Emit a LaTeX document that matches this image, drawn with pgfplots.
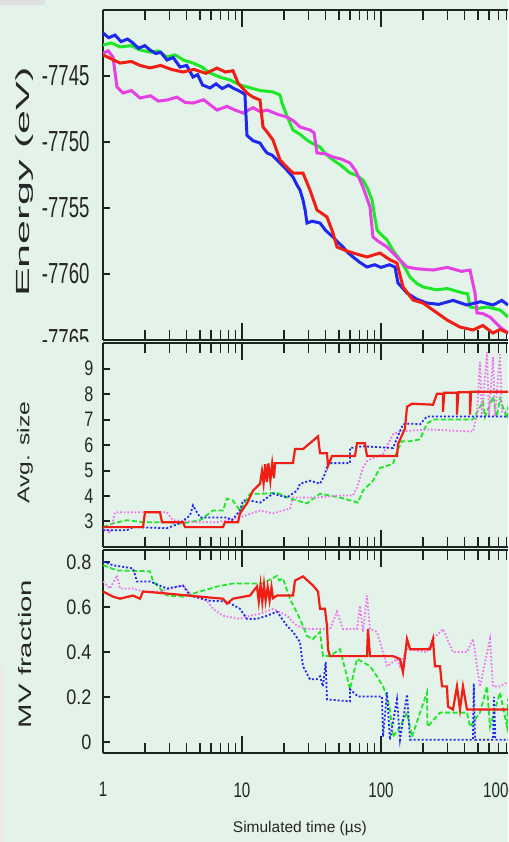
\documentclass[border=0pt]{standalone}
\usepackage{pgfplots}
\pgfplotsset{compat=1.18}
\usepackage{fontspec}
\setmainfont{Liberation Sans}
\usepackage{graphicx}
\definecolor{bgc}{RGB}{228,243,233}
\definecolor{axc}{RGB}{25,38,32}
\definecolor{cred}{RGB}{240,30,20}
\definecolor{cgreen}{RGB}{30,230,40}
\definecolor{cblue}{RGB}{30,40,240}
\definecolor{cmag}{RGB}{228,64,228}
\definecolor{cmagl}{RGB}{240,110,240}
\newcommand{\tlA}[1]{\scalebox{0.64}[1]{\fontsize{29}{29}\selectfont #1}}
\newcommand{\tlB}[1]{\scalebox{0.77}[1]{\fontsize{21}{21}\selectfont #1}}
\newcommand{\tlC}[1]{\scalebox{0.86}[1]{\fontsize{21}{21}\selectfont #1}}
\newcommand{\tlX}[1]{\scalebox{0.72}[1]{\fontsize{21}{21}\selectfont #1}}
\pgfplotsset{
 /pgfplots/stdpanel/.style={
  scale only axis, width=405pt, xmin=1, xmax=820,
  axis x line*=box, axis y line*=left,
  axis line style={axc, line width=1.6pt},
  tick align=inside, tick style={axc, line width=1.4pt},
  major tick length=10pt,
  xtick={2,3,4,5,6,7,8,9,20,30,40,50,60,70,80,90,200,300,400,500,600,700,800},
  xticklabels={{},{},{},{},{},{},{},{},{},{},{},{},{},{},{},{},{},{},{},{},{},{},{}},
  extra x ticks={1,10,100},
  extra x tick style={major tick length=17pt, tick style={axc, line width=1.6pt}},
  ytick=\empty,
  extra y tick style={major tick length=7pt, tick style={axc, line width=2pt}},
  anchor=north west,
  ylabel style={anchor=center, text=black!85},
  yticklabel style={text=black!85},
 },
 /pgfplots/topline/.style={line width=3pt, no marks},
}
\begin{document}
\begin{tikzpicture}
\fill[bgc] (0pt,0pt) rectangle (508pt,-842pt);
\fill[black!12] (0pt,0pt) rectangle (45pt,-5pt);
\fill[black!8] (0pt,-665pt) rectangle (4pt,-842pt);
\useasboundingbox (0pt,0pt) rectangle (508pt,-842pt);
% ---------------- top panel ----------------
\begin{axis}[xmode=log, stdpanel, at={(103pt,-10pt)}, height=330pt,
  ymin=-7765, ymax=-7740,
  extra y ticks={-7765,-7760,-7755,-7750,-7745},
  extra y tick labels={\tlA{-7765},\tlA{-7760},\tlA{-7755},\tlA{-7750},\tlA{-7745}},
  yticklabel style={xshift=-10pt},
  extra x tick labels={,,},
  ylabel={\scalebox{2.27}[1]{\fontsize{19}{19}\selectfont Energy (eV)}},
  ylabel style={at={(axis description cs:-0.1926,0.479)}},
]
\addplot[topline, cgreen] coordinates {(1,-7742.65) (1.15,-7742.5) (1.326,-7742.8) (1.6,-7742.7) (1.846,-7743.03) (2.2,-7743.2) (2.5,-7743.1) (2.887,-7743.56) (3.3,-7743.4) (3.8,-7743.8) (4.441,-7744.02) (5.1,-7744.3) (5.885,-7744.77) (7,-7745.1) (8.2,-7745.3) (9.674,-7745.68) (11.5,-7745.9) (13.5,-7746.1) (16.71,-7746.21) (18.77,-7746.44) (19.4,-7747.05) (21,-7748.0) (23.27,-7749.09) (26,-7749.4) (29.35,-7749.85) (32,-7750.1) (36.41,-7750.38) (40,-7750.9) (45.15,-7751.36) (52,-7751.8) (59.84,-7752.35) (66,-7752.5) (74.21,-7752.88) (80,-7753.5) (86.15,-7754.39) (90,-7755.6) (93.59,-7756.67) (100,-7757.0) (110.5,-7757.42) (122,-7758.2) (137,-7758.94) (150,-7759.6) (161.7,-7760.23) (180,-7760.7) (200.6,-7760.98) (250,-7761.2) (300,-7761.1) (388.9,-7761.44) (420,-7761.5) (436.8,-7762.5) (500,-7762.6) (578.9,-7762.5) (718.1,-7762.73) (770,-7763.0) (820,-7763.26)};
\addplot[topline, cmag] coordinates {(1,-7743.26) (1.09,-7743.1) (1.18,-7743.56) (1.261,-7745.83) (1.393,-7746.29) (1.6,-7746.1) (1.846,-7746.67) (2.2,-7746.5) (2.5,-7746.9) (2.887,-7746.82) (3.4,-7746.6) (3.9,-7747.0) (4.441,-7747.05) (5.3,-7746.8) (6.61,-7747.58) (7.8,-7747.3) (9,-7747.6) (10.17,-7747.8) (12,-7747.4) (13.5,-7747.7) (15.13,-7747.58) (18,-7747.9) (21.07,-7748.11) (23.5,-7748.4) (26.14,-7748.86) (30.84,-7749.09) (33,-7749.3) (34.64,-7750.83) (40,-7750.9) (45.15,-7751.14) (52,-7751.3) (59.84,-7751.59) (66,-7752.2) (74.21,-7753.41) (83.34,-7754.92) (87.58,-7757.2) (95,-7757.5) (110.5,-7757.95) (122,-7758.4) (137,-7758.94) (153.9,-7759.47) (180,-7759.6) (236.6,-7759.7) (300,-7759.5) (380,-7759.8) (436.8,-7759.7) (474.6,-7761.44) (490.5,-7762.95) (540,-7763.0) (608.4,-7763.26) (718.1,-7764.02) (820,-7764.47)};
\addplot[topline, cblue] coordinates {(1,-7741.74) (1.1,-7742.1) (1.22,-7741.9) (1.35,-7742.4) (1.5,-7742.2) (1.644,-7742.5) (1.8,-7742.9) (2.0,-7742.7) (2.178,-7743.03) (2.4,-7743.3) (2.6,-7743.2) (2.887,-7743.79) (3.2,-7743.6) (3.581,-7744.32) (4.0,-7744.2) (4.441,-7745.08) (4.8,-7744.9) (5.2,-7745.68) (5.885,-7745.91) (6.5,-7745.6) (7.2,-7745.95) (8.0,-7745.7) (8.615,-7745.91) (9.4,-7746.1) (10.17,-7746.29) (10.5,-7746.4) (10.86,-7749.5) (12,-7749.9) (13.48,-7750.08) (14.3,-7750.5) (15.13,-7750.83) (16.5,-7751.0) (18.77,-7751.59) (20.5,-7752.0) (23.27,-7752.65) (25,-7753.3) (26.14,-7753.64) (27.47,-7754.39) (28.5,-7755.2) (29.35,-7756.14) (32,-7756.0) (36.41,-7756.14) (40,-7756.7) (45.15,-7757.2) (49,-7757.6) (53.28,-7757.95) (58,-7758.4) (62.89,-7758.71) (70,-7759.1) (79.3,-7759.47) (90,-7759.3) (100,-7759.5) (115,-7759.3) (126.1,-7759.47) (132.5,-7760.68) (153.9,-7761.44) (180,-7761.9) (214.2,-7762.2) (260,-7762.3) (330,-7762.0) (415.6,-7762.35) (520,-7762.1) (640,-7762.35) (740,-7762.0) (820,-7762.35)};
\addplot[topline, cred] coordinates {(1,-7743.41) (1.15,-7743.7) (1.326,-7744.02) (1.6,-7743.9) (1.85,-7744.2) (2.178,-7744.39) (2.6,-7744.2) (3.1,-7744.5) (3.763,-7744.7) (4.5,-7744.5) (5.5,-7744.8) (6.6,-7744.4) (7.6,-7744.7) (8.615,-7744.6) (9.359,-7745.53) (10.86,-7746.29) (12,-7746.6) (13.48,-7746.82) (14.16,-7748.86) (15.3,-7749.3) (16.71,-7749.85) (18.77,-7751.36) (21,-7751.9) (23.27,-7752.35) (27.47,-7752.35) (30.84,-7753.64) (34.64,-7755.15) (40.88,-7755.68) (45.15,-7756.89) (48.25,-7757.95) (55,-7758.2) (62.89,-7758.41) (79.3,-7758.71) (98.35,-7758.41) (115,-7758.9) (130.3,-7759.17) (144,-7760.98) (169.9,-7761.97) (200.6,-7762.2) (236.6,-7762.73) (298.4,-7763.48) (370.1,-7764.02) (459.1,-7764.24) (540,-7763.9) (639.3,-7764.47) (720,-7764.2) (820,-7764.47)};
\end{axis}
\fill[bgc] (20pt,-342pt) rectangle (100pt,-365pt);
% ---------------- middle panel ----------------
\begin{axis}[xmode=log, stdpanel, at={(103pt,-343pt)}, height=204pt,
  ymin=2, ymax=10,
  extra y ticks={3,4,5,6,7,8,9},
  extra y tick labels={\tlB{3},\tlB{4},\tlB{5},\tlB{6},\tlB{7},\tlB{8},\tlB{9}},
  yticklabel style={xshift=-6pt},
  extra x tick labels={,,},
  ylabel={\scalebox{1.45}[1]{\fontsize{17}{17}\selectfont Avg. size}},
  ylabel style={at={(axis description cs:-0.1926,0.463)}},
]
\addplot[cgreen, line width=1.8pt, dash pattern=on 5pt off 2.5pt, no marks] coordinates {(1,2.78) (1.18,2.93) (1.488,3.05) (1.94,2.97) (2.887,2.97) (3.763,2.93) (4.987,3.05) (6.185,3.43) (7.3,3.43) (7.799,3.9) (8.615,3.82) (9.674,3.43) (11.42,4.09) (14.16,4.09) (17.86,4.13) (22.14,3.9) (29.35,3.71) (36.41,4.09) (50.7,3.94) (68.33,3.74) (74.21,4.21) (87.58,4.6) (98.35,5.1) (122,5.26) (130.3,5.76) (141.6,6.15) (161.7,6.15) (190.9,6.22) (214.2,6.84) (236.6,7.0) (459.1,7.0) (541.8,7.7) (560,7.1) (639.3,7.89) (680,7.1) (718.1,7.81) (806.3,7.04) (820,7.5)};
\addplot[cmagl, line width=1.8pt, dash pattern=on 1.6pt off 2pt, no marks] coordinates {(1,2.78) (1.123,2.54) (1.22,3.36) (1.644,3.36) (2.887,3.36) (3.188,3.05) (4.987,2.97) (6.61,2.97) (9.674,3.16) (13.48,3.43) (16.71,3.32) (22.14,3.51) (23.27,3.94) (34.64,3.94) (50.7,4.02) (62.89,4.02) (67.21,4.33) (74.21,5.1) (79.3,5.37) (87.58,5.49) (103.4,5.64) (122,6.42) (137,6.53) (214.2,6.61) (459.1,6.53) (490.5,7.19) (515.5,9.25) (532.9,7.12) (578.9,9.64) (598.4,7.12) (639.3,9.44) (660.8,7.12) (718.1,9.56) (742.3,7.31) (820,7.31)};
\addplot[cblue, line width=1.8pt, dash pattern=on 2pt off 2pt, no marks] coordinates {(1,2.66) (1.488,2.66) (1.644,2.78) (2.887,2.74) (3.581,2.93) (4.226,3.24) (4.441,3.63) (4.987,3.16) (7.799,3.16) (8.474,3.05) (9.674,3.43) (10.17,3.82) (11.42,3.82) (13.48,3.74) (16.71,4.09) (21.07,3.94) (24.87,4.21) (26.14,4.48) (30.84,4.6) (36.41,4.48) (39.55,4.87) (41.56,5.29) (59.84,5.29) (59.84,5.88) (74.21,5.95) (122,5.88) (130.3,6.26) (144,6.81) (161.7,6.84) (190.9,6.81) (214.2,7.12) (820,7.12)};
\addplot[cred, line width=2.2pt, no marks] coordinates {(1,2.78) (1.94,2.78) (2.005,3.36) (2.571,3.36) (2.658,2.97) (3.763,2.97) (3.89,2.78) (7.3,2.78) (7.547,2.97) (9.359,2.97) (9.674,3.32) (10.86,3.71) (12.0,4.21) (13.48,4.48) (13.93,4.98) (14.3,4.5) (14.7,5.25) (15.1,4.55) (15.5,5.28) (16.0,4.6) (16.5,5.28) (17.0,4.7) (17.28,5.29) (23.27,5.29) (24.06,5.84) (27.47,5.84) (30.84,6.07) (35.23,6.34) (36.41,5.68) (40.88,5.68) (41.56,5.18) (44.41,5.57) (65.02,5.57) (67.21,6.07) (76.71,6.07) (79.3,5.57) (130.3,5.57) (132.5,6.03) (148.8,6.65) (153.9,7.5) (167.1,7.62) (236.6,7.58) (252.9,8.01) (279.3,8.01) (279.3,7.3) (285,8.05) (352.2,8.05) (352.2,7.19) (360,8.07) (436.8,8.07) (436.8,7.19) (445,8.09) (820,8.09)};
\end{axis}
% ---------------- bottom panel ----------------
\begin{axis}[xmode=log, stdpanel, at={(103pt,-550pt)}, height=203pt,
  ymin=-0.05, ymax=0.855,
  extra y ticks={0,0.2,0.4,0.6,0.8},
  extra y tick labels={\tlC{0},\tlC{0.2},\tlC{0.4},\tlC{0.6},\tlC{0.8}},
  yticklabel style={xshift=-8pt},
  extra x tick labels={\tlX{1},\tlX{10},\tlX{100}},
  extra x tick style={xticklabel style={yshift=-26pt, text=black!85}},
  ylabel={\scalebox{1.63}[1]{\fontsize{18}{18}\selectfont MV fraction}},
  ylabel style={at={(axis description cs:-0.1926,0.488)}},
  xlabel={\fontsize{15.5}{15.5}\selectfont Simulated time (µs)},
  xlabel style={at={(axis description cs:0.486,-0.374)}, anchor=center, text=black!85},
]
\addplot[cgreen, line width=1.8pt, dash pattern=on 5pt off 2.5pt, no marks] coordinates {(1,0.787) (1.261,0.764) (2.178,0.76) (2.29,0.715) (2.887,0.652) (3.763,0.647) (4.987,0.67) (6.61,0.692) (8.615,0.706) (14.16,0.706) (17.86,0.74) (18.5,0.72) (19.72,0.728) (22.14,0.638) (26.14,0.548) (29.35,0.472) (32.42,0.458) (36.41,0.49) (38.26,0.382) (42.96,0.382) (50.7,0.413) (56.94,0.292) (59.84,0.234) (67.21,0.369) (74.21,0.355) (83.34,0.337) (93.59,0.292) (103.4,0.247) (110.5,0.202) (116,0.144) (122,0.022) (137,0.067) (153.9,0.13) (167.1,0.022) (190.9,0.13) (214.2,0.22) (216,0.067) (265.8,0.13) (415.6,0.13) (436.8,0.067) (515.5,0.13) (578.9,0.247) (608.4,0.067) (718.1,0.22) (806.3,0.067) (820,0.19)};
\addplot[cmagl, line width=1.8pt, dash pattern=on 1.6pt off 2pt, no marks] coordinates {(1,0.715) (1.123,0.683) (1.261,0.742) (1.326,0.683) (1.644,0.683) (1.94,0.67) (2.571,0.67) (3.763,0.697) (4.441,0.647) (5.601,0.629) (6.185,0.593) (7.3,0.562) (9.674,0.548) (11.42,0.562) (13.48,0.571) (16.71,0.593) (21.07,0.562) (24.87,0.517) (29.35,0.503) (42.96,0.503) (48.25,0.58) (53.28,0.503) (67.21,0.503) (70.63,0.607) (74.21,0.49) (79.3,0.652) (83.34,0.503) (93.59,0.49) (110.5,0.337) (130.3,0.369) (137,0.337) (153.9,0.413) (214.2,0.4) (236.6,0.458) (279.3,0.503) (329.6,0.4) (415.6,0.4) (459.1,0.458) (515.5,0.247) (608.4,0.458) (639.3,0.247) (718.1,0.247) (806.3,0.265) (820,0.265)};
\addplot[cblue, line width=1.8pt, dash pattern=on 2pt off 2pt, no marks] coordinates {(1,0.804) (1.18,0.787) (1.644,0.773) (1.756,0.715) (2.178,0.715) (2.887,0.683) (3.763,0.697) (4.226,0.652) (5.885,0.629) (7.799,0.625) (9.674,0.593) (10.86,0.548) (12.82,0.548) (15.13,0.562) (17.86,0.58) (21.07,0.517) (23.27,0.49) (26.14,0.445) (27.47,0.337) (30.84,0.279) (34.64,0.279) (36.41,0.292) (38.26,0.247) (40.0,0.355) (40.88,0.189) (59.84,0.18) (59.84,0.234) (68.33,0.202) (101.7,0.202) (103.4,0.022) (110.5,0.22) (116,0.009) (130.3,0.189) (137,0.009) (153.9,0.211) (161.7,0.009) (459.1,0.009) (465,0.26) (475,0.009) (640,0.009) (650,0.2) (665,0.009) (820,0.009)};
\addplot[cred, line width=2.2pt, no marks] coordinates {(1,0.67) (1.18,0.647) (1.326,0.638) (1.644,0.652) (1.846,0.638) (1.94,0.67) (2.887,0.661) (4.987,0.647) (7.3,0.638) (7.799,0.616) (8.615,0.638) (11.42,0.652) (12,0.67) (12.82,0.692) (13.2,0.625) (13.6,0.7) (14.0,0.625) (14.4,0.7) (14.8,0.63) (15.3,0.69) (15.8,0.63) (16.3,0.69) (16.71,0.64) (17.86,0.652) (23.27,0.652) (24.06,0.719) (27.47,0.737) (32.42,0.697) (35.23,0.67) (36.41,0.593) (39.55,0.593) (40.88,0.517) (41.56,0.413) (42.96,0.382) (79.3,0.382) (80.63,0.503) (83.34,0.382) (122,0.382) (137,0.369) (144,0.31) (153.9,0.458) (161.7,0.413) (225.1,0.413) (236.6,0.458) (244.6,0.337) (265.8,0.337) (274.8,0.247) (298.4,0.247) (303.4,0.157) (329.6,0.144) (352.2,0.247) (370.1,0.144) (388.9,0.247) (415.6,0.144) (820,0.144)};
\end{axis}
\node[text=black!85] at (500pt,-790pt) {\tlX{1000}};
\end{tikzpicture}
\end{document}
